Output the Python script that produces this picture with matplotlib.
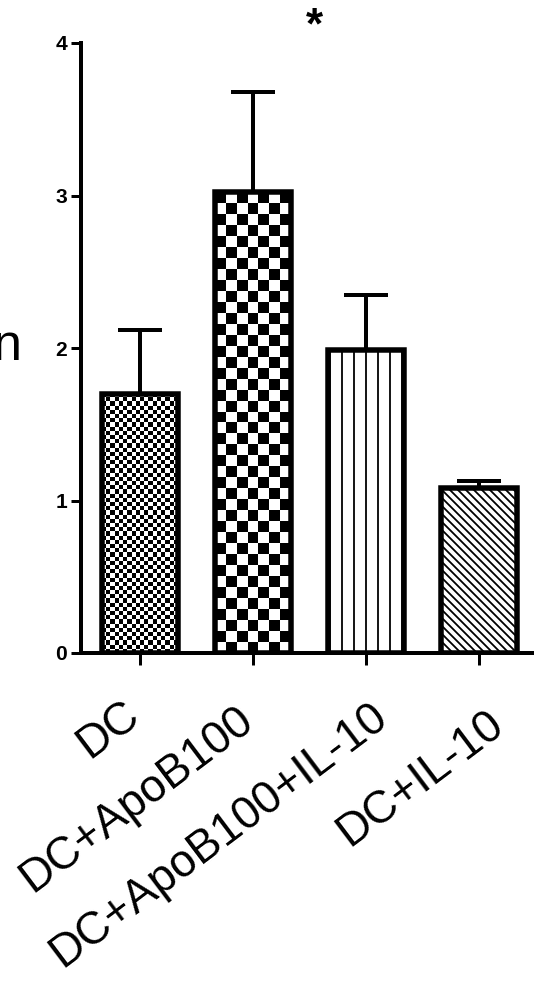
import matplotlib
matplotlib.use('Agg')
import matplotlib.pyplot as plt
import numpy as np

categories = ['DC', 'DC+ApoB100', 'DC+ApoB100+IL-10', 'DC+IL-10']
means = [1.70, 3.02, 1.99, 1.08]
errors = [0.42, 0.66, 0.36, 0.05]
yticks = [0, 1, 2, 3, 4]

plt.rcParams['font.family'] = ['Liberation Sans', 'DejaVu Sans']
plt.rcParams['hatch.linewidth'] = 1.8
DPI = 72
fig = plt.figure(figsize=(534 / DPI, 982 / DPI), dpi=DPI)
ax = fig.add_axes([81 / 534, 1 - 653 / 982, 1 - 81 / 534, (653 - 43) / 982])
x = np.arange(len(categories))
ax.set_xlim(-0.522, 3.487)
ax.set_ylim(0, 4)

ax.errorbar(x, means, yerr=[np.zeros(len(means)), errors], fmt='none', ecolor='black',
            elinewidth=4, capsize=22, capthick=4, zorder=1)
bars = ax.bar(x, means, width=0.67, facecolor='white', edgecolor='black', linewidth=0, zorder=2)
bars[2].set_hatch('|')
bars[3].set_hatch('\\\\\\')
bars[2].set_linewidth(0.01)
bars[3].set_linewidth(0.01)


def checker(bar, cell):
    x0, y0 = bar.get_x(), bar.get_y()
    w, h = bar.get_width(), bar.get_height()
    p0 = ax.transData.transform((x0, y0))
    p1 = ax.transData.transform((x0 + w, y0 + h))
    nx = max(1, int(round((p1[0] - p0[0]) / cell)))
    ny = max(1, int(round((p1[1] - p0[1]) / cell)))
    ii, jj = np.indices((ny, nx))
    arr = ((ii + jj) % 2).astype(float)
    im = ax.imshow(arr, cmap='gray', extent=(x0, x0 + w, y0, y0 + h), aspect='auto',
                   interpolation='nearest', zorder=2.5, origin='upper', vmin=0, vmax=1)
    im.set_clip_path(bar)


checker(bars[0], 4.2)
checker(bars[1], 11)

ax.bar(x, means, width=0.67, fill=False, edgecolor='black', linewidth=5.5, zorder=3)

ax.set_xlim(-0.522, 3.487)
ax.set_ylim(0, 4)

for s in ['top', 'right']:
    ax.spines[s].set_visible(False)
for s in ['left', 'bottom']:
    ax.spines[s].set_linewidth(4)
    ax.spines[s].set_zorder(4)

ax.set_yticks(yticks)
ax.set_yticklabels([str(t) for t in yticks], fontsize=21, fontweight='bold')
ax.set_xticks(x)
ax.set_xticklabels([''] * len(categories))
ax.tick_params(axis='both', width=3, length=10, direction='out', pad=4)
ax.tick_params(axis='x', length=12)

# per-label offsets (points) of the label's top-right anchor relative to its tick
label_dx = [-19, -18, 3, 6]
label_dy = [39, 45, 41, 49]
for xi, lab, dx, dy in zip(x, categories, label_dx, label_dy):
    ax.annotate(lab, xy=(xi, 0), xycoords=('data', 'axes fraction'),
                xytext=(dx, -dy), textcoords='offset points',
                rotation=37, ha='right', va='top', rotation_mode='anchor',
                fontsize=45.5, annotation_clip=False)

fig.text(22 / 534, 1 - 360 / 982, 'n', ha='right', va='baseline', fontsize=52)
ax.text(1.54, 4.03, '*', ha='center', va='baseline', fontsize=44, fontweight='bold', clip_on=False)

fig.savefig('out.png', dpi=DPI)
